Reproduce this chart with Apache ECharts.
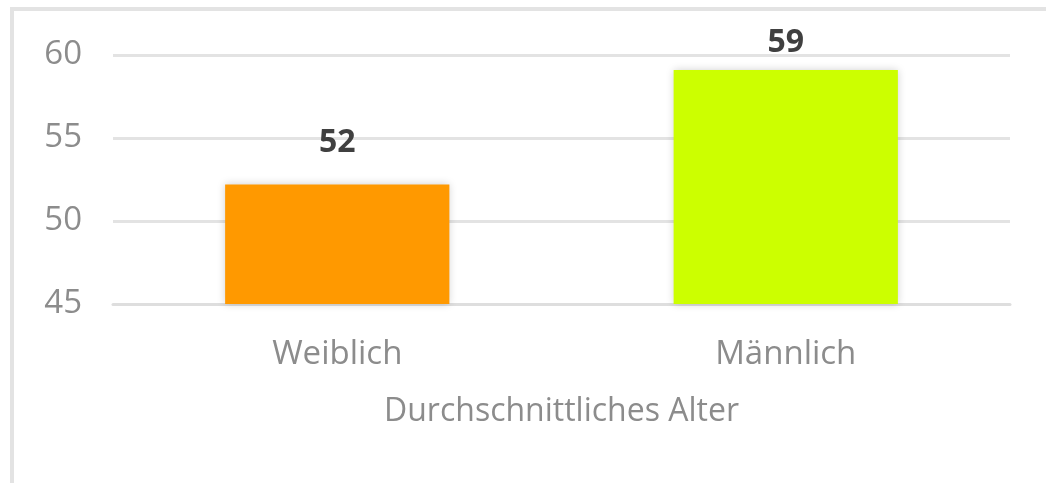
<!DOCTYPE html>
<html>
<head>
  <meta charset="utf-8">
  <script src="https://cdn.jsdelivr.net/npm/echarts@6/dist/echarts.min.js"></script>
  <style>
    body { margin: 0; padding: 0; background: #fff; }
    .frame {
      position: absolute; left: 10px; top: 7px; width: 1100px; height: 600px;
      border-left: 4px solid #e3e3e3; border-top: 4px solid #e3e3e3;
    }
    #main { position: absolute; left: 0; top: 0; width: 1046px; height: 483px; }
  </style>
</head>
<body>
<div class="frame"></div>
<div id="main"></div>
<script>
  // Daten
  var categories = ['Weiblich', 'Männlich'];
  var ages = [52.2, 59.1];
  var labels = ['52', '59'];
  var barColors = ['#ff9900', '#ccff00'];
  var axisName = 'Durchschnittliches Alter';

  var myChart = echarts.init(document.getElementById('main'));
  var font = 'Open Sans';
  var labelGap = [26, 11];
  var option = {
    animation: false,
    grid: { left: 113, right: 36, top: 55, bottom: 179 },
    xAxis: {
      type: 'category',
      data: categories,
      name: axisName,
      nameLocation: 'middle',
      nameGap: 92,
      nameTextStyle: { color: '#8c8c8c', fontSize: 32, fontFamily: font },
      axisLine: { show: true, lineStyle: { color: '#dedede', width: 3 } },
      axisTick: { show: false },
      axisLabel: { color: '#8c8c8c', fontSize: 33, fontFamily: font, margin: 34 }
    },
    yAxis: {
      type: 'value',
      min: 45,
      max: 60,
      interval: 5,
      axisLine: { show: false },
      axisTick: { show: false },
      axisLabel: { color: '#8c8c8c', fontSize: 33, fontFamily: font, margin: 31 },
      splitLine: { lineStyle: { color: '#e3e3e3', width: 3 } }
    },
    series: [{
      type: 'bar',
      barWidth: '50%',
      data: ages.map(function (v, i) {
        return {
          value: v,
          itemStyle: { color: barColors[i] },
          label: { distance: labelGap[i] }
        };
      }),
      itemStyle: { shadowBlur: 8, shadowColor: 'rgba(0,0,0,0.18)' },
      label: {
        show: true,
        position: 'top',
        formatter: function (p) { return labels[p.dataIndex]; },
        color: '#404040',
        fontSize: 32,
        fontWeight: 'bold',
        fontFamily: font
      }
    }]
  };
  myChart.setOption(option);
</script>
</body>
</html>
